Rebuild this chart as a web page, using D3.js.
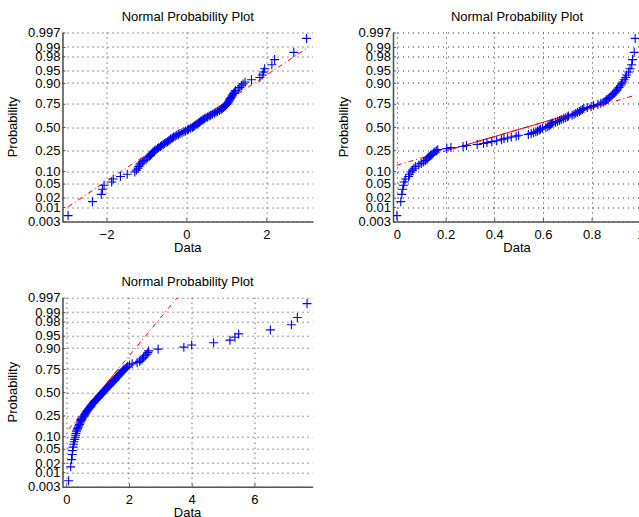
<!DOCTYPE html>
<html>
<head>
<meta charset="utf-8">
<script src="https://cdn.jsdelivr.net/npm/d3@7"></script>
<style>
  body { margin: 0; background: #fff; }
  svg text { font-family: "Liberation Sans", Arial, sans-serif; font-size: 13px; fill: #000; }
</style>
</head>
<body>
<div id="plot"></div>
<script>
// sorted samples (100 points each)
const normalData = [
  -2.96, -2.35, -2.13, -2.10, -2.06, -1.87, -1.83, -1.65, -1.48, -1.29,
  -1.25, -1.21, -1.19, -1.17, -1.14, -1.10, -1.06, -1.01, -0.97, -0.93,
  -0.90, -0.88, -0.85, -0.83, -0.80, -0.76, -0.72, -0.69, -0.65, -0.62,
  -0.58, -0.55, -0.51, -0.47, -0.44, -0.41, -0.39, -0.35, -0.32, -0.28,
  -0.24, -0.20, -0.16, -0.11, -0.06, -0.02, 0.03, 0.05, 0.10, 0.15,
  0.18, 0.21, 0.24, 0.27, 0.30, 0.33, 0.36, 0.39, 0.42, 0.45,
  0.49, 0.53, 0.57, 0.61, 0.65, 0.70, 0.74, 0.78, 0.83, 0.87,
  0.90, 0.93, 0.96, 0.98, 1.01, 1.03, 1.05, 1.07, 1.08, 1.10,
  1.12, 1.14, 1.16, 1.18, 1.20, 1.23, 1.30, 1.34, 1.38, 1.42,
  1.47, 1.63, 1.84, 1.90, 1.93, 1.96, 2.14, 2.21, 2.69, 3.01
];
const uniformData = [
  0.000, 0.016, 0.020, 0.024, 0.027, 0.030, 0.036, 0.048, 0.052, 0.058,
  0.064, 0.070, 0.077, 0.090, 0.100, 0.110, 0.118, 0.124, 0.128, 0.133,
  0.138, 0.144, 0.150, 0.156, 0.162, 0.168, 0.205, 0.222, 0.272, 0.286,
  0.330, 0.356, 0.370, 0.390, 0.410, 0.430, 0.440, 0.455, 0.470, 0.490,
  0.500, 0.540, 0.552, 0.562, 0.571, 0.578, 0.585, 0.590, 0.598, 0.612,
  0.620, 0.626, 0.630, 0.635, 0.640, 0.652, 0.660, 0.668, 0.675, 0.684,
  0.692, 0.700, 0.705, 0.720, 0.728, 0.735, 0.742, 0.750, 0.756, 0.762,
  0.768, 0.782, 0.798, 0.808, 0.826, 0.838, 0.848, 0.856, 0.862, 0.868,
  0.874, 0.880, 0.886, 0.892, 0.897, 0.902, 0.907, 0.913, 0.918, 0.923,
  0.928, 0.934, 0.940, 0.944, 0.952, 0.958, 0.965, 0.968, 0.975, 0.979
];
const skewedData = [
  0.077, 0.14, 0.17, 0.19, 0.20, 0.22, 0.23, 0.25, 0.27, 0.29,
  0.30, 0.31, 0.32, 0.34, 0.36, 0.38, 0.40, 0.42, 0.44, 0.46,
  0.47, 0.49, 0.51, 0.54, 0.57, 0.59, 0.61, 0.63, 0.65, 0.67,
  0.70, 0.72, 0.74, 0.77, 0.79, 0.81, 0.83, 0.86, 0.88, 0.90,
  0.93, 0.96, 0.99, 1.02, 1.04, 1.06, 1.08, 1.11, 1.14, 1.16,
  1.19, 1.21, 1.24, 1.26, 1.29, 1.31, 1.34, 1.37, 1.39, 1.42,
  1.45, 1.48, 1.51, 1.53, 1.56, 1.58, 1.61, 1.64, 1.67, 1.70,
  1.72, 1.75, 1.78, 1.81, 1.84, 1.88, 1.92, 1.96, 2.02, 2.10,
  2.26, 2.34, 2.38, 2.43, 2.47, 2.52, 2.57, 2.60, 2.63, 2.93,
  3.75, 4.00, 4.70, 5.22, 5.38, 5.50, 6.51, 7.18, 7.37, 7.68
];

// x values where the red reference line crosses p = 0.25 and p = 0.75
const normalQuartiles = [-0.83, 0.92];
const uniformQuartiles = [0.21, 0.86];
const skewedQuartiles = [0.44, 1.66];

// tick values
const probTicks = [0.003, 0.01, 0.02, 0.05, 0.10, 0.25, 0.50, 0.75, 0.90, 0.95, 0.98, 0.99, 0.997];
const probLabels = ["0.003", "0.01", "0.02", "0.05", "0.10", "0.25", "0.50", "0.75", "0.90", "0.95", "0.98", "0.99", "0.997"];
const normalXTicks = [-2, 0, 2];
const uniformXTicks = [0, 0.2, 0.4, 0.6, 0.8, 1];
const skewedXTicks = [0, 2, 4, 6];

const W = 639, H = 517;
const plotH = 189;

const svg = d3.select("#plot")
  .append("svg")
    .attr("width", W)
    .attr("height", H);

// inverse of the standard normal cdf (Acklam)
function norminv(p) {
  const a = [-39.69683028665376, 220.9460984245205, -275.9285104469687, 138.3577518672690, -30.66479806614716, 2.506628277459239];
  const b = [-54.47609879822406, 161.5858368580409, -155.6989798598866, 66.80131188771972, -13.28068155288572];
  const c = [-0.007784894002430293, -0.3223964580411365, -2.400758277161838, -2.549732539343734, 4.374664141464968, 2.938163982698783];
  const d = [0.007784695709041462, 0.3224671290700398, 2.445134137142996, 3.754408661907416];
  const pl = 0.02425;
  let q, r;
  if (p < pl) {
    q = Math.sqrt(-2 * Math.log(p));
    return (((((c[0]*q+c[1])*q+c[2])*q+c[3])*q+c[4])*q+c[5]) / ((((d[0]*q+d[1])*q+d[2])*q+d[3])*q+1);
  }
  if (p > 1 - pl) {
    q = Math.sqrt(-2 * Math.log(1 - p));
    return -(((((c[0]*q+c[1])*q+c[2])*q+c[3])*q+c[4])*q+c[5]) / ((((d[0]*q+d[1])*q+d[2])*q+d[3])*q+1);
  }
  q = p - 0.5; r = q * q;
  return (((((a[0]*r+a[1])*r+a[2])*r+a[3])*r+a[4])*r+a[5])*q / (((((b[0]*r+b[1])*r+b[2])*r+b[3])*r+b[4])*r+1);
}

const fmt = d => String(d).replace("-", "\u2212");

function drawPanel(cfg, idx) {
  const g = svg.append("g").attr("transform", `translate(${cfg.left},${cfg.top})`);
  const x = d3.scaleLinear().domain(cfg.xDomain).range([0, cfg.width]);
  const z = d3.scaleLinear().domain([norminv(0.003), norminv(0.997)]).range([plotH, 0]);

  g.append("clipPath").attr("id", "clip" + idx)
    .append("rect").attr("width", cfg.width).attr("height", plotH);

  // dotted grid
  g.selectAll(".hgrid").data(probTicks).join("line")
    .attr("x1", 0).attr("x2", cfg.width)
    .attr("y1", d => Math.round(z(norminv(d))) + 0.5)
    .attr("y2", d => Math.round(z(norminv(d))) + 0.5)
    .attr("stroke", "#333").attr("stroke-width", 1).attr("stroke-dasharray", "1,4");
  g.selectAll(".vgrid").data(cfg.xTicks).join("line")
    .attr("x1", d => Math.round(x(d)) + 0.5).attr("x2", d => Math.round(x(d)) + 0.5)
    .attr("y1", 0).attr("y2", plotH)
    .attr("stroke", "#333").attr("stroke-width", 1).attr("stroke-dasharray", "1,4");

  // axes
  const yAxis = g.append("g")
    .call(d3.axisLeft(z)
      .tickValues(probTicks.map(norminv))
      .tickFormat((d, i) => probLabels[i])
      .tickSizeInner(-3).tickSizeOuter(0).tickPadding(2));
  const xAxis = g.append("g")
    .attr("transform", `translate(0,${plotH})`)
    .call(d3.axisBottom(x)
      .tickValues(cfg.xTicks)
      .tickFormat(fmt)
      .tickSizeInner(-3).tickSizeOuter(0).tickPadding(8));
  [yAxis, xAxis].forEach(a => {
    a.select(".domain").attr("stroke", "#555").attr("stroke-width", 1.6);
    a.selectAll(".tick line").attr("stroke", "#555");
  });

  // reference line through the quartiles (under the markers)
  const [q1, q3] = cfg.quartiles;
  const z25 = norminv(0.25), z75 = norminv(0.75);
  const lineZ = v => z25 + (v - q1) * (z75 - z25) / (q3 - q1);
  const line = d3.line().x(v => x(v)).y(v => z(lineZ(v)));
  const lines = g.append("g").attr("clip-path", `url(#clip${idx})`);
  lines.append("path")
    .attr("d", line([d3.min(cfg.data), d3.max(cfg.data)]))
    .attr("stroke", "#ff0000").attr("stroke-width", 1).attr("fill", "none")
    .attr("stroke-dasharray", "5,3,1,3");
  lines.append("path")
    .attr("d", line([q1, q3]))
    .attr("stroke", "#ff0000").attr("stroke-width", 1).attr("fill", "none");

  // data markers
  const n = cfg.data.length;
  const pts = cfg.data.map((v, i) => ({ v, p: (i + 0.5) / n }));
  g.append("g").attr("clip-path", `url(#clip${idx})`)
    .selectAll("path").data(pts).join("path")
      .attr("d", d => {
        const cx = x(d.v), cy = z(norminv(d.p));
        return `M${cx - 4.5},${cy}h9M${cx},${cy - 4.5}v9`;
      })
      .attr("stroke", "#0000ff").attr("stroke-width", 1.1).attr("fill", "none");

  // titles and labels
  g.append("text")
    .attr("x", cfg.width / 2).attr("y", -12)
    .attr("text-anchor", "middle")
    .text("Normal Probability Plot");
  g.append("text")
    .attr("x", cfg.width / 2).attr("y", plotH + 30.5)
    .attr("text-anchor", "middle")
    .text("Data");
  g.append("text")
    .attr("transform", `translate(-45.5,${plotH / 2}) rotate(-90)`)
    .attr("text-anchor", "middle")
    .text("Probability");
}

const panels = [
  { data: normalData, quartiles: normalQuartiles, xTicks: normalXTicks, xDomain: [-3.10, 3.17], left: 62.5, top: 32.5, width: 250.5 },
  { data: uniformData, quartiles: uniformQuartiles, xTicks: uniformXTicks, xDomain: [-0.016, 1.003], left: 393, top: 32.5, width: 248 },
  { data: skewedData, quartiles: skewedQuartiles, xTicks: skewedXTicks, xDomain: [-0.12, 7.86], left: 62.5, top: 297.7, width: 250.2 }
];
panels.forEach(drawPanel);
</script>
</body>
</html>
